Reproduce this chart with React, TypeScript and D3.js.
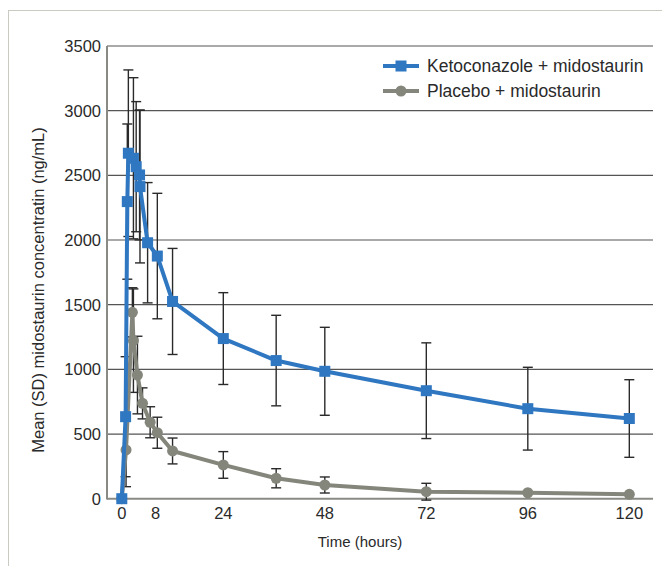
import React from "react";
import * as d3 from "d3";

const ketoTime = [0, 0.9, 1.3, 1.55, 2.75, 3.4, 4.2, 4.3, 6.1, 8.4, 12, 24, 36.5, 48, 72, 96, 120];
const ketoMean = [0, 634, 2297, 2671, 2632, 2567, 2503, 2413, 1979, 1876, 1525, 1238, 1068, 985, 835, 696, 620];
const ketoSD = [0, 464, 600, 644, 623, 503, 502, 590, 465, 485, 410, 355, 350, 340, 370, 320, 300];

const placeboTime = [0, 1, 2.5, 2.75, 3.7, 4.9, 6.7, 8.4, 12, 24, 36.5, 48, 72, 96, 120];
const placeboMean = [0, 377, 1441, 1222, 956, 737, 591, 510, 369, 261, 158, 106, 54, 46, 34];
const placeboSD = [0, 284, 190, 400, 300, 120, 120, 120, 100, 103, 74, 62, 65, 0, 0];

const xTicks = [0, 8, 24, 48, 72, 96, 120];
const yTicks = [0, 500, 1000, 1500, 2000, 2500, 3000, 3500];

const seriesNames = ["Ketoconazole + midostaurin", "Placebo + midostaurin"];

const BLUE = "#2f77c1";
const GREY = "#85867b";
const FONT = "'Liberation Sans', Arial, sans-serif";

export default function App() {
  const x = d3.scaleLinear().domain([-3.5, 125.6]).range([107, 653]);
  const y = d3.scaleLinear().domain([0, 3500]).range([498.7, 46]);

  const line = d3
    .line<[number, number]>()
    .x((d) => x(d[0]))
    .y((d) => y(d[1]));

  const keto: [number, number][] = ketoTime.map((t, i) => [t, ketoMean[i]]);
  const plac: [number, number][] = placeboTime.map((t, i) => [t, placeboMean[i]]);

  const errBars = (times: number[], means: number[], sds: number[], key: string) =>
    times.map((t, i) => {
      if (!sds[i]) return null;
      const cx = x(t);
      const y1 = y(means[i] + sds[i]);
      const y2 = y(means[i] - sds[i]);
      return (
        <g key={key + i} stroke="#2a2a2a" strokeWidth={1.4}>
          <line x1={cx} x2={cx} y1={y1} y2={y2} />
          <line x1={cx - 5} x2={cx + 5} y1={y1} y2={y1} />
          <line x1={cx - 5} x2={cx + 5} y1={y2} y2={y2} />
        </g>
      );
    });

  return (
    <svg
      width={662}
      height={566}
      style={{ position: "absolute", left: 0, top: 0, background: "#fff" }}
      fontFamily={FONT}
    >
      {/* frame */}
      <line x1={8} x2={662} y1={10.5} y2={10.5} stroke="#c9cac2" strokeWidth={1} />
      <line x1={8.5} x2={8.5} y1={10} y2={566} stroke="#c9cac2" strokeWidth={1} />

      {/* gridlines */}
      {yTicks.map((v) => (
        <line key={"g" + v} x1={107} x2={653} y1={y(v)} y2={y(v)} stroke={v === 0 ? "#8a8a85" : "#555"} strokeWidth={v === 0 ? 2 : 1.2} />
      ))}
      {/* y axis line */}
      <line x1={107} x2={107} y1={46} y2={499.5} stroke="#8a8a85" strokeWidth={2} />

      {/* y tick labels */}
      {yTicks.map((v) => (
        <text key={"yt" + v} x={101} y={y(v) + 6} textAnchor="end" fontSize={16.5} fill="#2a2a2a">
          {v}
        </text>
      ))}
      {/* x tick labels */}
      {xTicks.map((t) => (
        <text key={"xt" + t} x={x(t)} y={519} textAnchor="middle" fontSize={16.5} fill="#2a2a2a">
          {t}
        </text>
      ))}

      {/* axis titles */}
      <text x={360} y={547} textAnchor="middle" fontSize={15} fill="#2a2a2a">
        Time (hours)
      </text>
      <text
        transform={`translate(44,290) rotate(-90)`}
        textAnchor="middle"
        fontSize={16.5}
        fill="#2a2a2a"
      >
        Mean (SD) midostaurin concentratin (ng/mL)
      </text>

      {/* error bars */}
      {errBars(placeboTime, placeboMean, placeboSD, "pe")}
      {errBars(ketoTime, ketoMean, ketoSD, "ke")}

      {/* placebo line */}
      <path d={line(plac) || ""} fill="none" stroke={GREY} strokeWidth={4} strokeLinejoin="round" />
      {plac.map((d, i) => (
        <circle key={"pc" + i} cx={x(d[0])} cy={y(d[1])} r={5.5} fill={GREY} />
      ))}

      {/* keto line */}
      <path d={line(keto) || ""} fill="none" stroke={BLUE} strokeWidth={4} strokeLinejoin="round" />
      {keto.map((d, i) => (
        <rect key={"kr" + i} x={x(d[0]) - 5.5} y={y(d[1]) - 5.5} width={11} height={11} fill={BLUE} />
      ))}

      {/* legend */}
      <line x1={383} x2={419} y1={66} y2={66} stroke={BLUE} strokeWidth={4} />
      <rect x={395.5} y={60.5} width={11} height={11} fill={BLUE} />
      <text x={427} y={72} fontSize={17.5} fill="#2a2a2a">
        {seriesNames[0]}
      </text>
      <line x1={383} x2={419} y1={91} y2={91} stroke={GREY} strokeWidth={4} />
      <circle cx={401} cy={91} r={5.5} fill={GREY} />
      <text x={427} y={97} fontSize={17.5} fill="#2a2a2a">
        {seriesNames[1]}
      </text>
    </svg>
  );
}
